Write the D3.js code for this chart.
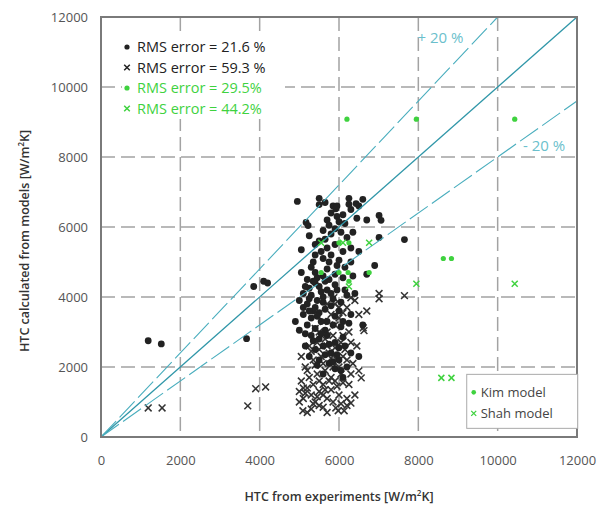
<!DOCTYPE html>
<html>
<head>
<meta charset="utf-8">
<script src="https://cdn.jsdelivr.net/npm/d3@7/dist/d3.min.js"></script>
<style>
    html, body { margin: 0; padding: 0; background: #fff; overflow: hidden; }
    svg { display: block; }
    svg text { font-family: "Open Sans", "Liberation Sans", sans-serif; }
</style>
</head>
<body>
<div id="chart"></div>
<script>
// HTC: model vs experiment scatter

const tickValues = [0, 2000, 4000, 6000, 8000, 10000, 12000];
const lineRatios = [1, 1.2, 0.8];

// black dots (model 1) [experiment, model]
const dotData = [
    [4950, 6730], [5500, 6820], [5500, 6640], [5850, 6600], [5920, 6520], [6250, 6820], [6430, 6670],
    [6600, 6790], [5170, 6130], [5220, 6040], [7010, 6330], [7060, 6190], [5800, 6400], [5950, 6300],
    [6100, 6350], [6000, 6150], [5700, 6200], [6300, 6500], [6500, 6600],
    [7650, 5640], [7010, 5700], [5600, 5900], [5800, 5800], [5900, 5950], [6050, 5850], [6200, 5700],
    [5500, 5600], [5700, 5400], [5900, 5500], [6100, 5300], [6300, 5400], [5400, 5200], [5600, 5100],
    [5800, 5200], [6000, 5050], [6500, 5300], [6900, 4900], [6300, 5000], [5350, 5000],
    [5300, 4850], [5400, 4700], [5600, 4600], [5700, 4800], [5900, 4650], [6100, 4550], [5200, 4500],
    [5400, 4400], [5500, 4300], [5700, 4200], [5900, 4350], [6150, 4200], [6700, 4650], [6400, 4100],
    [5100, 4100], [5300, 4050], [5600, 4000], [5800, 4100], [3850, 4300], [4100, 4450], [4200, 4400],
    [5000, 3900], [5200, 3800], [5400, 3700], [5600, 3850], [5800, 3750], [6000, 3600], [5100, 3500],
    [5300, 3400], [5500, 3550], [5700, 3300], [5900, 3450], [6100, 3300], [4900, 3300], [5200, 3200],
    [5400, 3100], [5650, 3050], [6300, 3500], [6600, 3200], [5000, 3050],
    [5300, 2900], [5500, 2800], [5700, 2900], [5900, 2700], [6100, 2850], [5150, 2600], [5400, 2500],
    [5600, 2600], [5800, 2400], [6000, 2550], [6300, 2400], [5500, 2200], [5750, 2100], [6000, 2200],
    [6200, 2000], [3670, 2810], [1190, 2750], [1520, 2660], [5900, 1950], [6500, 2300],
    [5600, 1800], [6100, 1700], [5450, 4550], [5650, 4450], [5250, 4250], [5550, 3300], [5350, 3600],
    [5050, 4700], [5150, 4300], [5250, 3950], [5350, 4450], [5450, 3900], [5550, 4150], [5750, 4500],
    [5850, 3950], [5950, 4200], [6050, 3850], [6200, 4050], [5100, 3700], [5250, 3600], [5450, 3450],
    [5650, 3650], [5850, 3200], [6050, 3150], [6250, 3250], [5150, 2950], [5350, 2750], [5550, 2950],
    [5750, 2650], [5950, 2350], [6150, 2600], [5250, 2300], [5450, 2050], [5650, 2350], [5850, 2150],
    [6050, 1900], [5400, 5500], [5650, 5650], [5750, 6050], [5950, 6600], [6150, 6100], [6350, 5850],
    [6250, 6650], [5550, 5300], [5750, 5000], [6150, 4850], [6350, 4600], [5950, 4900], [5050, 5350],
    [5250, 5750], [6450, 6250], [6700, 6200], [5650, 6700]
];

// black crosses (model 2)
const crossData = [
    [1190, 830], [1540, 830], [3700, 890], [3900, 1380], [4150, 1430], [7010, 4100], [7010, 3950],
    [7650, 4040], [6610, 3120], [6630, 3040], [6500, 1890], [6560, 1690], [6300, 970], [6130, 750],
    [5920, 830], [5980, 750], [5090, 750], [5870, 3980], [6300, 3980],
    [5000, 1300], [5100, 1100], [5200, 1400], [5300, 1200], [5400, 1000], [5500, 1300], [5600, 1500],
    [5700, 1100], [5800, 1350], [5900, 1600], [6000, 1200], [5050, 1600], [5250, 1700], [5450, 1800],
    [5650, 1900], [5850, 2000], [6050, 1800], [6250, 1500], [5150, 2000], [5350, 2200], [5550, 2300],
    [5750, 2400], [5950, 2200], [6150, 2500], [6350, 2100], [5250, 2600], [5450, 2700], [5650, 2800],
    [5850, 2900], [6050, 2700], [6250, 3000], [5400, 3100], [5600, 3300], [5800, 3500], [6000, 3400],
    [6200, 3700], [6400, 3900], [5900, 3800], [5500, 900], [5700, 700], [5300, 800], [6400, 1200],
    [6200, 1100], [5500, 1600], [5800, 1700], [5100, 1400], [6100, 2300], [5700, 3000], [6500, 3500],
    [6700, 3600], [5600, 1200], [5000, 1000], [6200, 900],
    [5150, 1250], [5350, 1500], [5450, 1150], [5650, 1350], [5750, 1600], [5950, 1450], [6100, 1550],
    [5200, 1900], [5400, 2050], [5600, 2100], [5800, 2250], [6000, 2000], [6200, 2200], [5300, 2450],
    [5500, 2500], [5700, 2600], [5900, 2550], [6100, 2900], [6300, 2700], [5500, 3000], [5900, 3200],
    [6100, 3550], [5350, 950], [5600, 850], [5850, 1000], [6050, 950], [5200, 700], [6300, 1800],
    [5050, 2300], [6450, 2600], [6000, 3700], [5700, 3800]
];

// Kim model (green dots)
const kimData = [
    [6200, 9080], [7950, 9080], [10430, 9080], [8630, 5100], [8835, 5100], [6000, 5550], [6250, 5550],
    [5550, 4700], [6000, 4700], [6230, 4700], [6760, 4700], [6250, 4450]
];

// Shah model (green crosses)
const shahData = [
    [5550, 5550], [6760, 5550], [6100, 5550], [7950, 4380], [10430, 4380], [8580, 1690], [8835, 1690],
    [6250, 4300]
];

const rmsLabels = ["RMS error = 21.6 %", "RMS error = 59.3 %", "RMS error = 29.5%", "RMS error = 44.2%"];
const modelLabels = ["Kim model", "Shah model"];

const width = 611;
const height = 511;
const margin = { top: 17, right: 34, bottom: 74, left: 101 };
const innerWidth = width - margin.left - margin.right;
const innerHeight = height - margin.top - margin.bottom;

const black = "#222";
const green = "#3fd23f";
const teal = "#4aaebe";

const svg = d3.select("#chart").append("svg")
    .attr("width", width)
    .attr("height", height);

const root = svg.append("g")
    .attr("transform", `translate(${margin.left},${margin.top})`);

const x = d3.scaleLinear().domain([0, 12000]).range([0, innerWidth]);
const y = d3.scaleLinear().domain([0, 12000]).range([innerHeight, 0]);

// dashed grid
const inner = tickValues.slice(1, -1);
root.append("g").selectAll("line.gx").data(inner).join("line")
    .attr("x1", d => x(d)).attr("x2", d => x(d))
    .attr("y1", 0).attr("y2", innerHeight)
    .attr("stroke", "#a3a3a3").attr("stroke-width", 1.5)
    .attr("stroke-dasharray", "14,6");
root.append("g").selectAll("line.gy").data(inner).join("line")
    .attr("y1", d => y(d)).attr("y2", d => y(d))
    .attr("x1", 0).attr("x2", innerWidth)
    .attr("stroke", "#a3a3a3").attr("stroke-width", 1.5)
    .attr("stroke-dasharray", "14,6");

const crossPath = s => `M${-s},${-s}L${s},${s}M${-s},${s}L${s},${-s}`;

// black crosses then dots
root.append("g").selectAll("path").data(crossData).join("path")
    .attr("transform", d => `translate(${x(d[0])},${y(d[1])})`)
    .attr("d", crossPath(3.4))
    .attr("fill", "none")
    .attr("stroke", "#333")
    .attr("stroke-width", 1.5);

root.append("g").selectAll("circle").data(dotData).join("circle")
    .attr("cx", d => x(d[0]))
    .attr("cy", d => y(d[1]))
    .attr("r", 3.4)
    .attr("fill", black);

// reference lines: 1:1 and +/-20 %
root.append("g").selectAll("line").data(lineRatios).join("line")
    .attr("x1", x(0)).attr("y1", y(0))
    .attr("x2", d => x(Math.min(12000, 12000 / d)))
    .attr("y2", d => y(Math.min(12000, 12000 * d)))
    .attr("stroke", d => d === 1 ? "#2f96a8" : teal)
    .attr("stroke-width", d => d === 1 ? 1.3 : 1.1)
    .attr("stroke-dasharray", d => d === 1 ? null : "22,5");

// green points
root.append("g").selectAll("path").data(shahData).join("path")
    .attr("transform", d => `translate(${x(d[0])},${y(d[1])})`)
    .attr("d", crossPath(3))
    .attr("fill", "none")
    .attr("stroke", green)
    .attr("stroke-width", 1.5);

root.append("g").selectAll("circle").data(kimData).join("circle")
    .attr("cx", d => x(d[0]))
    .attr("cy", d => y(d[1]))
    .attr("r", 2.6)
    .attr("fill", green);

// +/- 20 % labels
root.append("text")
    .attr("x", x(7980)).attr("y", y(11250))
    .attr("fill", "#6bbfcc").attr("font-size", 15)
    .text("+ 20 %");
root.append("text")
    .attr("x", x(10640)).attr("y", y(8180))
    .attr("fill", "#6bbfcc").attr("font-size", 15)
    .text("- 20 %");

// frame
root.append("rect")
    .attr("width", innerWidth).attr("height", innerHeight)
    .attr("fill", "none")
    .attr("stroke", "#7a7a7a")
    .attr("stroke-width", 2);

// axes (labels only, no tick marks)
const xAxisGroup = root.append("g")
    .attr("transform", `translate(0,${innerHeight})`)
    .call(d3.axisBottom(x).tickValues(tickValues).tickSize(0).tickPadding(19).tickFormat(d3.format("d")));
const yAxisGroup = root.append("g")
    .call(d3.axisLeft(y).tickValues(tickValues).tickSize(0).tickPadding(13).tickFormat(d3.format("d")));

[xAxisGroup, yAxisGroup].forEach(g => {
    g.attr("fill", null).attr("font-size", null).attr("font-family", null);
    g.select(".domain").remove();
    g.selectAll(".tick line").remove();
    g.selectAll("text")
        .attr("font-family", "'Open Sans', sans-serif")
        .attr("font-size", 13)
        .attr("fill", "#555");
});

// axis titles
const xTitle = root.append("text")
    .attr("x", innerWidth / 2)
    .attr("y", innerHeight + 64)
    .attr("text-anchor", "middle")
    .attr("font-size", 12.5)
    .attr("font-weight", 600)
    .attr("fill", "#333");
xTitle.append("tspan").text("HTC from experiments [W/m");
xTitle.append("tspan").attr("font-size", 8).attr("dy", -5).text("2");
xTitle.append("tspan").attr("dy", 5).text("K]");

const yTitle = root.append("text")
    .attr("transform", `translate(-72,${innerHeight / 2 + 14}) rotate(-90)`)
    .attr("text-anchor", "middle")
    .attr("font-size", 12.5)
    .attr("font-weight", 600)
    .attr("fill", "#333");
yTitle.append("tspan").text("HTC calculated from models [W/m");
yTitle.append("tspan").attr("font-size", 8).attr("dy", -5).text("2");
yTitle.append("tspan").attr("dy", 5).text("K]");

// RMS legend (top left, white background, no border)
const rmsLegend = root.append("g").attr("transform", "translate(21,18)");
rmsLegend.append("rect")
    .attr("width", 163).attr("height", 84)
    .attr("fill", "#fff");
const rmsRows = rmsLegend.selectAll("g").data(rmsLabels).join("g")
    .attr("transform", (d, i) => `translate(0,${12 + i * 20.5})`);
rmsRows.each(function (d, i) {
    const g = d3.select(this);
    const col = i < 2 ? black : green;
    if (i % 2 === 0) {
        g.append("circle").attr("cx", 5).attr("cy", 0).attr("r", 2.6).attr("fill", col);
    } else {
        g.append("path").attr("transform", "translate(5,0)").attr("d", crossPath(2.8))
            .attr("stroke", col).attr("stroke-width", 1.5).attr("fill", "none");
    }
    g.append("text")
        .attr("x", 15).attr("y", 0).attr("dy", "0.35em")
        .attr("font-family", "'Liberation Sans', Arial, sans-serif")
        .attr("font-size", 14.5)
        .attr("fill", col)
        .text(d);
});

// model legend (bottom right, boxed)
const modelLegend = root.append("g").attr("transform", `translate(${x(9220)},${y(1790)})`);
modelLegend.append("rect")
    .attr("width", 111).attr("height", 54)
    .attr("fill", "#fff")
    .attr("stroke", "#aaa")
    .attr("stroke-width", 1);
const modelRows = modelLegend.selectAll("g").data(modelLabels).join("g")
    .attr("transform", (d, i) => `translate(0,${18 + i * 21})`);
modelRows.each(function (d, i) {
    const g = d3.select(this);
    if (i === 0) {
        g.append("circle").attr("cx", 7).attr("cy", 0).attr("r", 2.3).attr("fill", green);
    } else {
        g.append("path").attr("transform", "translate(7,0)").attr("d", crossPath(2.5))
            .attr("stroke", green).attr("stroke-width", 1.3).attr("fill", "none");
    }
    g.append("text")
        .attr("x", 14).attr("y", 0).attr("dy", "0.35em")
        .attr("font-size", 13)
        .attr("fill", "#444")
        .text(d);
});
</script>
</body>
</html>
